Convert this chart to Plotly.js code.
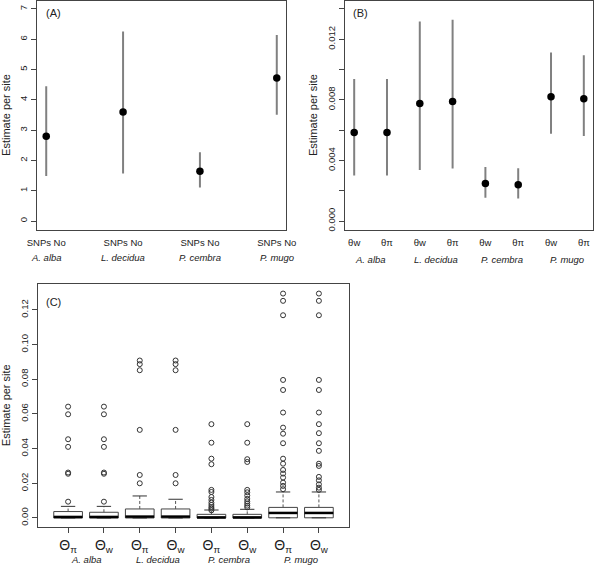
<!DOCTYPE html>
<html>
<head>
<meta charset="utf-8">
<script src="https://cdn.plot.ly/plotly-3.0.1.min.js"></script>
<style>html,body{margin:0;padding:0;background:#fff;}#chart{width:594px;height:565px;}</style>
</head>
<body>
<div id="chart"></div>
<script>
// ---------- data ----------
var species = ['A. alba', 'L. decidua', 'P. cembra', 'P. mugo'];

// Panel A: number of SNPs per site (estimate with interval)
var posA = [1, 2, 3, 4];
var labelsA = ['SNPs No', 'SNPs No', 'SNPs No', 'SNPs No'];
var meanA = [2.80, 3.60, 1.64, 4.72];
var lowA = [1.49, 1.57, 1.11, 3.51];
var highA = [4.45, 6.26, 2.27, 6.14];

// Panel B: theta W and theta pi per site
var posB = [1, 2, 3, 4, 5, 6, 7, 8];
var labelsB = ['θw', 'θπ', 'θw', 'θπ', 'θw', 'θπ', 'θw', 'θπ'];
var meanB = [0.00584, 0.00584, 0.00776, 0.00789, 0.00247, 0.00240, 0.00820, 0.00807];
var lowB = [0.00300, 0.00300, 0.00337, 0.00346, 0.00154, 0.00148, 0.00577, 0.00562];
var highB = [0.00937, 0.00937, 0.01318, 0.01329, 0.00357, 0.00348, 0.01113, 0.01095];

// Panel C: per-locus distributions (box plots)
var posC = [1, 2, 3, 4, 5, 6, 7, 8];
var labelsC = ['Θ<sub>π</sub>', 'Θ<sub>w</sub>', 'Θ<sub>π</sub>', 'Θ<sub>w</sub>',
               'Θ<sub>π</sub>', 'Θ<sub>w</sub>', 'Θ<sub>π</sub>', 'Θ<sub>w</sub>'];
var q1C = [0.0000, 0.0000, 0.0000, 0.0000, 0.0000, 0.0000, 0.0001, 0.0001];
var medC = [0.0006, 0.0006, 0.0008, 0.0008, 0.0003, 0.0003, 0.0029, 0.0029];
var q3C = [0.0037, 0.0033, 0.0052, 0.0052, 0.0021, 0.0021, 0.0061, 0.0061];
var whiskC = [0.0067, 0.0067, 0.0127, 0.0108, 0.0046, 0.0050, 0.0150, 0.0150];
var outliersC = [
  [0.0094, 0.0255, 0.0262, 0.0410, 0.0454, 0.0598, 0.0642],
  [0.0094, 0.0255, 0.0262, 0.0410, 0.0454, 0.0598, 0.0642],
  [0.0200, 0.0248, 0.0508, 0.0852, 0.0887, 0.0908],
  [0.0200, 0.0248, 0.0508, 0.0852, 0.0887, 0.0908],
  [0.0044, 0.0054, 0.0063, 0.0075, 0.0088, 0.0104, 0.0121, 0.0150, 0.0162, 0.0310, 0.0342, 0.0434, 0.0541],
  [0.0061, 0.0071, 0.0083, 0.0096, 0.0110, 0.0130, 0.0148, 0.0162, 0.0323, 0.0339, 0.0434, 0.0541],
  [0.0166, 0.0185, 0.0204, 0.0233, 0.0256, 0.0277, 0.0313, 0.0342, 0.0431, 0.0486, 0.0521, 0.0608, 0.0738, 0.0796, 0.1169, 0.1252, 0.1294],
  [0.0162, 0.0175, 0.0194, 0.0217, 0.0237, 0.0300, 0.0313, 0.0387, 0.0431, 0.0489, 0.0541, 0.0608, 0.0738, 0.0796, 0.1169, 0.1252, 0.1294]
];
var yTicksA = [0, 1, 2, 3, 4, 5, 6, 7];
var yTicksB = [0, 0.004, 0.008, 0.012];
var yMinorB = [0.002, 0.006, 0.010, 0.014];
var yTicksC = [0, 0.02, 0.04, 0.06, 0.08, 0.10, 0.12];

// ---------- styling helpers ----------
var W = 594, H = 565;
function px(x) { return x / W; }
function py(y) { return 1 - y / H; }
var FONT = 'Liberation Sans, Arial, sans-serif';
var axisCol = '#444';
var errCol = '#808080';

function diff(a, b) { return a.map(function (v, i) { return v - b[i]; }); }

var traces = [];

// Panel A
traces.push({
  type: 'scatter', mode: 'markers', xaxis: 'x', yaxis: 'y',
  x: posA, y: meanA,
  marker: { color: '#000', size: 7.5 },
  error_y: { type: 'data', symmetric: false, array: diff(highA, meanA), arrayminus: diff(meanA, lowA),
             color: errCol, thickness: 2, width: 0 },
  hoverinfo: 'skip', showlegend: false
});

// Panel B
traces.push({
  type: 'scatter', mode: 'markers', xaxis: 'x2', yaxis: 'y2',
  x: posB, y: meanB,
  marker: { color: '#000', size: 7.5 },
  error_y: { type: 'data', symmetric: false, array: diff(highB, meanB), arrayminus: diff(meanB, lowB),
             color: errCol, thickness: 2, width: 0 },
  hoverinfo: 'skip', showlegend: false
});

// Panel C boxes
var boxW = 0.8;
traces.push({
  type: 'box', xaxis: 'x3', yaxis: 'y3',
  x: posC, q1: q1C, median: medC, q3: q3C, lowerfence: q1C, upperfence: q3C,
  width: boxW, whiskerwidth: 0,
  fillcolor: '#fff', line: { color: axisCol, width: 1 },
  boxpoints: false, hoverinfo: 'skip', showlegend: false
});

// whiskers (dashed) and staples
var wx = [], wy = [], sx = [], sy = [], mx = [], my = [], ox = [], oy = [];
posC.forEach(function (p, i) {
  wx.push(p, p, null); wy.push(q3C[i], whiskC[i], null);
  sx.push(p - boxW / 4, p + boxW / 4, null); sy.push(whiskC[i], whiskC[i], null);
  sx.push(p - boxW / 4, p + boxW / 4, null); sy.push(q1C[i], q1C[i], null);
  mx.push(p - boxW / 2, p + boxW / 2, null); my.push(medC[i], medC[i], null);
  outliersC[i].forEach(function (v) { ox.push(p); oy.push(v); });
});
traces.push({ type: 'scatter', mode: 'lines', xaxis: 'x3', yaxis: 'y3', x: wx, y: wy,
  line: { color: '#555', width: 1, dash: '3px,2px' }, hoverinfo: 'skip', showlegend: false });
traces.push({ type: 'scatter', mode: 'lines', xaxis: 'x3', yaxis: 'y3', x: sx, y: sy,
  line: { color: '#333', width: 1 }, hoverinfo: 'skip', showlegend: false });
traces.push({ type: 'scatter', mode: 'lines', xaxis: 'x3', yaxis: 'y3', x: mx, y: my,
  line: { color: '#000', width: 2.5 }, hoverinfo: 'skip', showlegend: false });
traces.push({ type: 'scatter', mode: 'markers', xaxis: 'x3', yaxis: 'y3', x: ox, y: oy,
  marker: { symbol: 'circle-open', size: 5, color: '#333', line: { width: 1 } },
  hoverinfo: 'skip', showlegend: false });

function yax(domain, range, tickvals, fmt) {
  var a = {
    domain: domain, range: range, tickmode: 'array', tickvals: tickvals,
    ticks: 'outside', ticklen: 5, tickcolor: axisCol, tickwidth: 1,
    tickangle: -90, tickfont: { family: FONT, size: 9.5, color: '#222' },
    showline: true, linecolor: axisCol, linewidth: 1, mirror: true,
    showgrid: false, zeroline: false, fixedrange: true,
    title: { text: 'Estimate per site', font: { family: FONT, size: 11, color: '#222' }, standoff: 6 }
  };
  if (fmt) a.tickformat = fmt;
  return a;
}
function xax(domain, range, tickvals, ticktext, anchor, showTicks, fsize) {
  return {
    domain: domain, range: range, anchor: anchor, tickmode: 'array', tickvals: tickvals, ticktext: ticktext,
    ticks: 'outside', ticklen: showTicks ? 5 : 4, tickcolor: showTicks ? axisCol : 'rgba(0,0,0,0)', tickwidth: 1,
    tickfont: { family: FONT, size: fsize, color: '#222' },
    showline: true, linecolor: axisCol, linewidth: 1, mirror: true,
    showgrid: false, zeroline: false, fixedrange: true
  };
}

var domYAB = [py(229.5), py(0.5)];
var domYC = [py(527), py(283.5)];

var layout = {
  width: W, height: H, margin: { l: 0, r: 0, t: 0, b: 0 },
  paper_bgcolor: '#fff', plot_bgcolor: '#fff', showlegend: false,
  font: { family: FONT, color: '#222' },
  xaxis: xax([px(37), px(286)], [0.88, 4.12], posA, labelsA, 'y', false, 9.5),
  yaxis: yax(domYAB, [-0.28, 7.28], yTicksA, null),
  xaxis2: xax([px(345), px(593)], [0.72, 8.28], posB, labelsB, 'y2', false, 9.5),
  yaxis2: yax(domYAB, [-0.00056, 0.01456], yTicksB, '.3f'),
  xaxis3: xax([px(38), px(349)], [0.16, 8.84], posC, labelsC, 'y3', true, 14),
  yaxis3: yax(domYC, [-0.0052, 0.1352], yTicksC, '.2f'),
  annotations: []
};
layout.yaxis.anchor = 'x';
layout.yaxis2.anchor = 'x2';
layout.yaxis3.anchor = 'x3';
layout.yaxis2.minor = { tickmode: 'array', tickvals: yMinorB, ticks: 'outside', ticklen: 5, tickcolor: axisCol, tickwidth: 1, showgrid: false };

// species labels
species.forEach(function (s, i) {
  layout.annotations.push({ xref: 'x', yref: 'paper', x: posA[i], y: py(257), text: '<i>' + s + '</i>',
    showarrow: false, xanchor: 'center', yanchor: 'middle', font: { family: FONT, size: 9.5, color: '#222' } });
  layout.annotations.push({ xref: 'x2', yref: 'paper', x: (posB[2 * i] + posB[2 * i + 1]) / 2, y: py(259),
    text: '<i>' + s + '</i>', showarrow: false, xanchor: 'center', yanchor: 'middle',
    font: { family: FONT, size: 9.5, color: '#222' } });
  layout.annotations.push({ xref: 'x3', yref: 'paper', x: (posC[2 * i] + posC[2 * i + 1]) / 2, y: py(559),
    text: '<i>' + s + '</i>', showarrow: false, xanchor: 'center', yanchor: 'middle',
    font: { family: FONT, size: 9.5, color: '#222' } });
});
// panel letters
[['(A)', 44, 13], ['(B)', 351, 13], ['(C)', 44, 302]].forEach(function (a) {
  layout.annotations.push({ xref: 'paper', yref: 'paper', x: px(a[1]), y: py(a[2]), text: a[0],
    showarrow: false, xanchor: 'left', yanchor: 'middle', font: { family: FONT, size: 11, color: '#222' } });
});

Plotly.newPlot('chart', traces, layout, { staticPlot: true, displayModeBar: false });
</script>
</body>
</html>
